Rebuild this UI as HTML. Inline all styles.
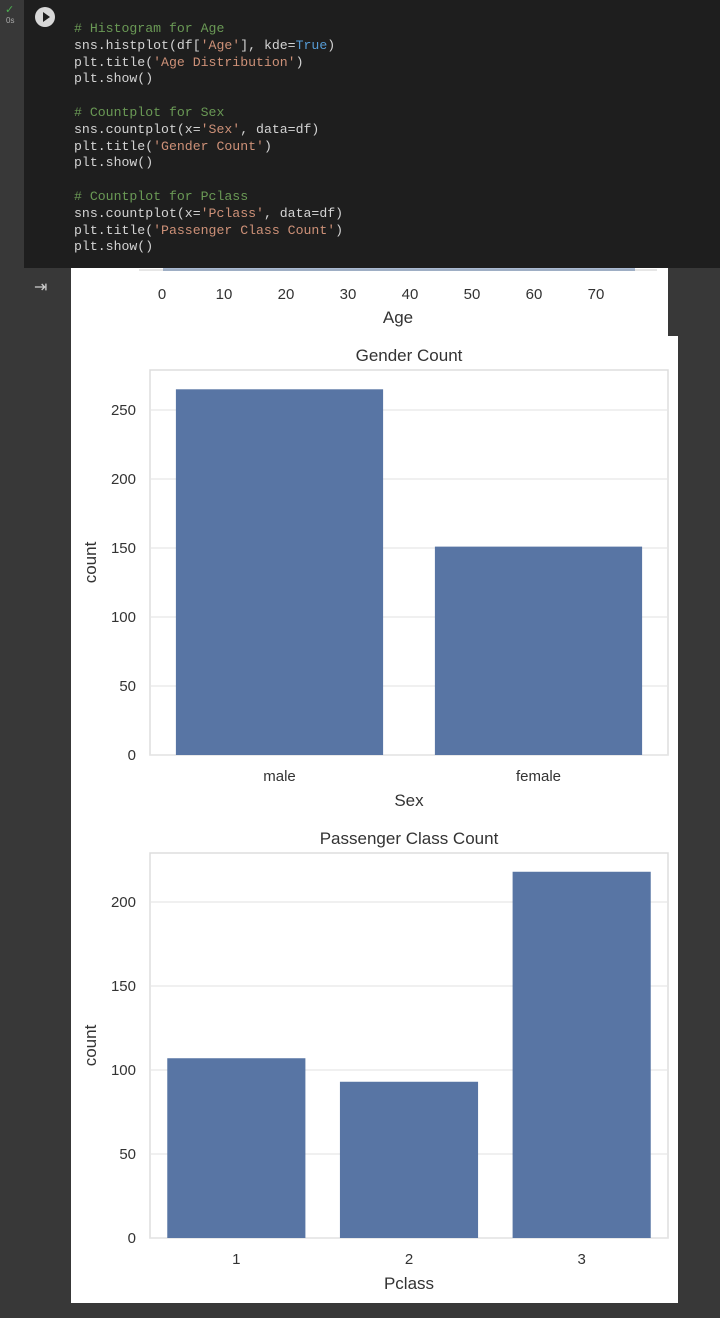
<!DOCTYPE html>
<html><head><meta charset="utf-8"><style>
body{margin:0;width:720px;height:1318px;background:#383838;overflow:hidden;font-family:"Liberation Sans",sans-serif}
.code{position:absolute;left:24px;top:0;width:696px;height:268px;background:#1e1e1e}
pre{position:absolute;left:74px;top:21px;margin:0;font-family:"Liberation Mono",monospace;font-size:13.2px;line-height:16.8px;color:#d4d4d4}
.c{color:#6a9955}.s{color:#ce9178}.k{color:#569cd6}
</style></head><body>
<div class="code"></div>
<div style="position:absolute;left:35px;top:7px;width:20px;height:20px;border-radius:50%;background:#d8d8d8"><div style="position:absolute;left:8px;top:5px;border-left:7px solid #1e1e1e;border-top:5px solid transparent;border-bottom:5px solid transparent"></div></div>
<div style="position:absolute;left:5px;top:3px;color:#4caf50;font-size:11px">✓</div>
<div style="position:absolute;left:6px;top:16px;color:#aaa;font-size:8px">0s</div>
<pre><span class="c"># Histogram for Age</span>
sns.histplot(df[<span class="s">'Age'</span>], kde=<span class="k">True</span>)
plt.title(<span class="s">'Age Distribution'</span>)
plt.show()

<span class="c"># Countplot for Sex</span>
sns.countplot(x=<span class="s">'Sex'</span>, data=df)
plt.title(<span class="s">'Gender Count'</span>)
plt.show()

<span class="c"># Countplot for Pclass</span>
sns.countplot(x=<span class="s">'Pclass'</span>, data=df)
plt.title(<span class="s">'Passenger Class Count'</span>)
plt.show()</pre>
<div style="position:absolute;left:34px;top:277px;color:#ccc;font-size:16px">⇥</div>
<svg id="svg" width="720" height="1318" style="position:absolute;left:0;top:0">
<rect x="71" y="268" width="597" height="68" fill="#fff"/>
<rect x="71" y="336" width="607" height="967" fill="#fff"/>
</svg>
<script>
const ageTicks=[0,10,20,30,40,50,60,70];
const sexCats=['male','female'];
const sexCounts=[265,151];
const sexTicks=[0,50,100,150,200,250];
const pcCats=['1','2','3'];
const pcCounts=[107,93,218];
const pcTicks=[0,50,100,150,200];
const svg=document.getElementById('svg');
const NS='http://www.w3.org/2000/svg';
function el(t,a,txt){const e=document.createElementNS(NS,t);for(const k in a)e.setAttribute(k,a[k]);if(txt!==undefined)e.textContent=txt;svg.appendChild(e);return e;}
const ax=v=>162+v*6.2;
let l=el('line',{x1:139,y1:270,x2:657,y2:270,stroke:'#ddd','stroke-width':1.5});

let r=el('rect',{x:163,y:268,width:472,height:3,fill:'#5875a4',opacity:0.5});

ageTicks.forEach(v=>{const t=el('text',{x:ax(v),y:299,'font-size':15,fill:'#333','text-anchor':'middle'},String(v));
});
let t0=el('text',{x:398,y:323,'font-size':17,fill:'#333','text-anchor':'middle'},'Age');

function chart(cfg){
 const {x0,x1,y0,y1,vmax,cats,vals,ticks,title,xlab,pfx}=cfg;
 const yS=v=>y1-(v/vmax)*(y1-y0);
 const bw=(x1-x0)/cats.length;
 let f=el('rect',{x:x0,y:y0,width:x1-x0,height:y1-y0,fill:'none',stroke:'#ddd','stroke-width':1.5});
 
 ticks.forEach(v=>{const g=el('line',{x1:x0,x2:x1,y1:yS(v),y2:yS(v),stroke:'#e6e6e6','stroke-width':1.2});
  
  const t=el('text',{x:x0-14,y:yS(v)+5,'font-size':15,fill:'#333','text-anchor':'end'},String(v));
  });
 cats.forEach((c,i)=>{const cx=x0+bw*(i+0.5);const w=bw*0.8;
  const b=el('rect',{x:cx-w/2,y:yS(vals[i]),width:w,height:y1-yS(vals[i]),fill:'#5875a4'});
  
  const t=el('text',{x:cx,y:y1+26,'font-size':15,fill:'#333','text-anchor':'middle'},c);
  });
 const tt=el('text',{x:(x0+x1)/2,y:y0-9,'font-size':17,fill:'#333','text-anchor':'middle'},title);
 
 const xl=el('text',{x:(x0+x1)/2,y:y1+51,'font-size':17,fill:'#333','text-anchor':'middle'},xlab);
 
 const yl=el('text',{x:0,y:0,'font-size':17,fill:'#333','text-anchor':'middle',transform:`translate(96,${(y0+y1)/2}) rotate(-90)`},'count');
 
}
chart({x0:150,x1:668,y0:370,y1:755,vmax:250*385/345,cats:sexCats,vals:sexCounts,ticks:sexTicks,title:'Gender Count',xlab:'Sex',pfx:'sex'});
chart({x0:150,x1:668,y0:853,y1:1238,vmax:200*385/336,cats:pcCats,vals:pcCounts,ticks:pcTicks,title:'Passenger Class Count',xlab:'Pclass',pfx:'pclass'});
</script>
</body></html>
